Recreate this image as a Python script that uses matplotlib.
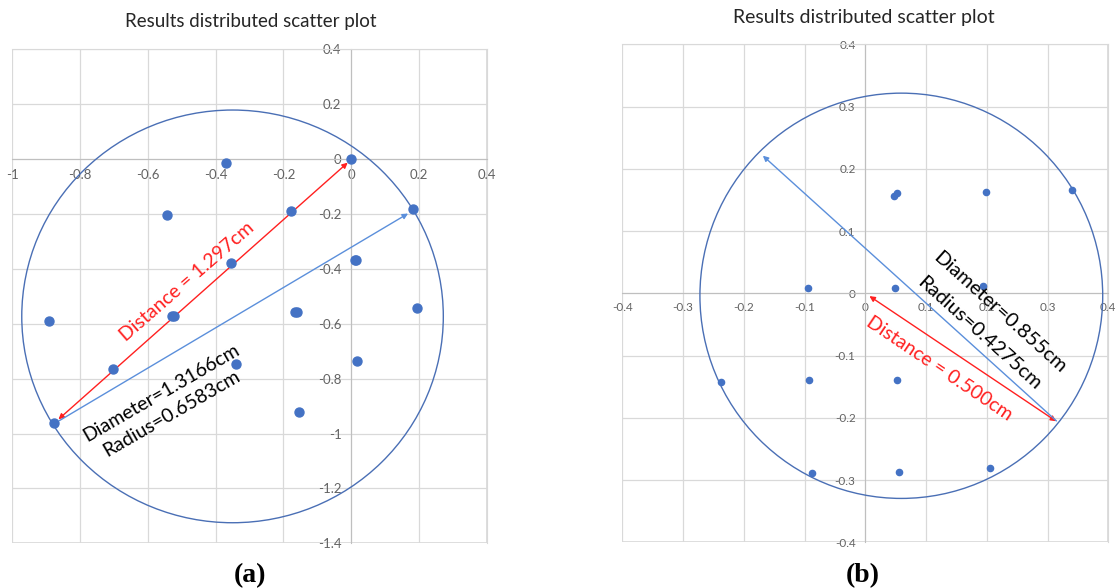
import matplotlib.pyplot as plt
from matplotlib.patches import Ellipse, Rectangle

plt.rcParams['font.family'] = ['Lato', 'DejaVu Sans']

# panel (a) points
xa = [0.0, -0.368, -0.544, -0.178, 0.184, -0.354, 0.010, 0.015, -0.893, -0.529, -0.522,
      -0.167, -0.160, 0.194, -0.703, -0.339, 0.017, -0.876, -0.155]
ya = [0.0, -0.013, -0.205, -0.189, -0.181, -0.379, -0.367, -0.367, -0.589, -0.571, -0.571,
      -0.557, -0.557, -0.544, -0.763, -0.745, -0.735, -0.960, -0.921]

# panel (b) points
xb = [0.047, 0.053, 0.199, 0.341, -0.095, 0.049, 0.193, -0.238, -0.093, 0.053, -0.088, 0.055, 0.205]
yb = [0.157, 0.161, 0.163, 0.166, 0.008, 0.009, 0.012, -0.143, -0.140, -0.139, -0.288, -0.287, -0.280]

xticks_a = [-1, -0.8, -0.6, -0.4, -0.2, 0, 0.2, 0.4]
yticks_a = [-1.4, -1.2, -1, -0.8, -0.6, -0.4, -0.2, 0, 0.2, 0.4]
xticks_b = [-0.4, -0.3, -0.2, -0.1, 0, 0.1, 0.2, 0.3, 0.4]
yticks_b = [-0.4, -0.3, -0.2, -0.1, 0, 0.1, 0.2, 0.3, 0.4]

# circles (center, width, height) and arrows (start, end) in data units
circle_a = ((-0.35, -0.573), 1.244, 1.504)
circle_b = ((0.0593, -0.004), 0.663, 0.651)
dist_a = ((-0.87, -0.955), (-0.004, -0.006))
diam_a = ((-0.868, -0.958), (0.175, -0.193))
dist_b = ((0.003, -0.002), (0.318, -0.208))
diam_b = ((0.318, -0.208), (-0.172, 0.224))

dot = '#4472c4'
red = '#ff2020'
lblue = '#5b8fdb'
gridc = '#d9d9d9'
axc = '#bfbfbf'

fig = plt.figure(figsize=(11.16, 5.88), dpi=100)
ax1 = fig.add_axes([0.011, 0.076, 0.4251, 0.840])
ax2 = fig.add_axes([0.5576, 0.0777, 0.4355, 0.847])


def setup(ax, xt, yt, xpad, ypad, fs):
    ax.set_xlim(xt[0], xt[-1])
    ax.set_ylim(yt[0], yt[-1])
    ax.set_xticks(xt)
    ax.set_yticks(yt)
    ax.set_xticklabels(['%g' % v for v in xt])
    ax.set_yticklabels(['%g' % v for v in yt])
    ax.grid(True, color=gridc, lw=0.9, zorder=0)
    ax.set_axisbelow(True)
    ax.spines['bottom'].set_position(('data', 0))
    ax.spines['left'].set_position(('data', 0))
    ax.spines['bottom'].set_color(axc)
    ax.spines['left'].set_color(axc)
    ax.spines['top'].set_color(gridc)
    ax.spines['right'].set_color(gridc)
    ax.add_patch(Rectangle((0, 0), 1, 1, transform=ax.transAxes, fill=False,
                           ec=gridc, lw=1.2, zorder=0))
    ax.tick_params(axis='x', length=0, pad=xpad, labelsize=fs, labelcolor='#636363')
    ax.tick_params(axis='y', length=0, pad=ypad, labelsize=fs, labelcolor='#636363')


setup(ax1, xticks_a, yticks_a, 7, 7, 9.5)
setup(ax2, xticks_b, yticks_b, 6, 7, 8.5)

ax1.scatter(xa, ya, s=42, color=dot, zorder=4)
ax2.scatter(xb, yb, s=20, color=dot, zorder=4)

for ax, c in ((ax1, circle_a), (ax2, circle_b)):
    ax.add_patch(Ellipse(c[0], c[1], c[2], fill=False, ec='#4a6fb5', lw=1.0, zorder=3))

ax1.annotate('', xy=dist_a[1], xytext=dist_a[0],
             arrowprops=dict(arrowstyle='<|-|>', color=red, lw=1.0, mutation_scale=8))
ax1.annotate('', xy=diam_a[1], xytext=diam_a[0],
             arrowprops=dict(arrowstyle='-|>', color=lblue, lw=1.0, mutation_scale=8))
ax2.annotate('', xy=dist_b[1], xytext=dist_b[0],
             arrowprops=dict(arrowstyle='<|-|>', color=red, lw=1.0, mutation_scale=8))
ax2.annotate('', xy=diam_b[1], xytext=diam_b[0],
             arrowprops=dict(arrowstyle='-|>', color=lblue, lw=1.0, mutation_scale=8))

kw = dict(ha='center', va='center', rotation_mode='anchor', zorder=5)
ax1.text(-0.483, -0.445, 'Distance = 1.297cm', color=red, fontsize=14, rotation=41, **kw)
ax1.text(-0.5615, -0.852, 'Diameter=1.3166cm', color='black', fontsize=14, rotation=30, **kw)
ax1.text(-0.529, -0.926, 'Radius=0.6583cm', color='black', fontsize=14, rotation=30, **kw)
ax2.text(0.122, -0.1206, 'Distance = 0.500cm', color=red, fontsize=14, rotation=-34, **kw)
ax2.text(0.222, -0.031, 'Diameter=0.855cm', color='black', fontsize=14.5, rotation=-42, **kw)
ax2.text(0.188, -0.064, 'Radius=0.4275cm', color='black', fontsize=14.5, rotation=-42, **kw)

fig.text(251 / 1116, 1 - 21 / 588, 'Results distributed scatter plot', fontsize=13.5,
         ha='center', va='center', color='#262626')
fig.text(864 / 1116, 1 - 18 / 588, 'Results distributed scatter plot', fontsize=14,
         ha='center', va='center', color='#262626')
fig.text(250 / 1116, 1 - 576 / 588, '(a)', fontsize=20, fontweight='bold',
         family='Liberation Serif', ha='center', va='center')
fig.text(863 / 1116, 1 - 576 / 588, '(b)', fontsize=20, fontweight='bold',
         family='Liberation Serif', ha='center', va='center')

fig.savefig('out.png', dpi=100)
